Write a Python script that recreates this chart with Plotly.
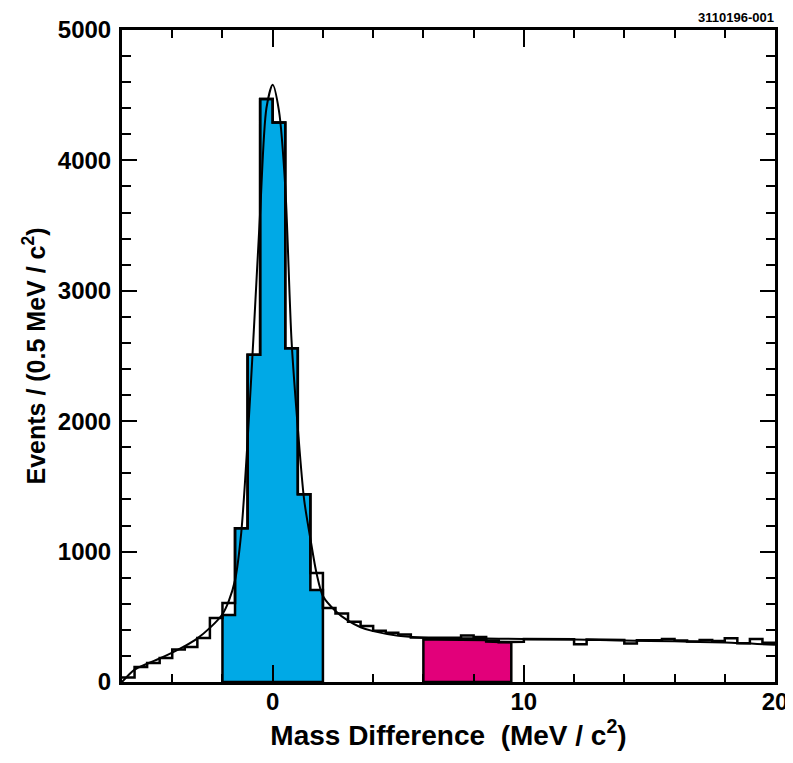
import plotly.graph_objects as go

# ---------------- data ----------------
BIN_WIDTH = 0.5
data_start = -6.0
# events per 0.5 MeV bin, from -6 to 20 MeV
data_counts = [35, 115, 145, 185, 250, 268, 337, 490, 605, 1180,
               2510, 4470, 4290, 2560, 1440, 835, 567, 526, 462, 429,
               393, 378, 365, 342, 340, 340, 340, 357, 345, 318,
               305, 309, 330, 325, 330, 327, 289, 325, 320, 322,
               296, 320, 322, 330, 318, 310, 322, 315, 335, 297,
               330, 301]

signal_start = -2.0
signal_counts = [513, 1180, 2510, 4470, 4290, 2560, 1440, 705]

sideband_start = 6.0
sideband_counts = [325, 325, 325, 325, 322, 310, 305]

fit_x = [-6, -5.5, -5, -4.5, -4, -3.5, -3, -2.5, -2, -1.75, -1.5, -1.25,
         -1, -0.75, -0.5, -0.25, 0, 0.25, 0.5, 0.75, 1, 1.25, 1.5, 1.75,
         2, 2.5, 3, 3.5, 4, 5, 6, 8, 10, 12, 14, 16, 18, 20]
fit_y = [0, 95, 140, 180, 225, 275, 335, 415, 520, 620, 780, 1150,
         1850, 2700, 3600, 4400, 4580, 4380, 3800, 2620, 1950, 1400, 1100, 830,
         660, 545, 470, 420, 390, 355, 340, 335, 330, 325, 318, 312, 302, 285]

x_ticks = [0, 10, 20]
y_ticks = [0, 1000, 2000, 3000, 4000, 5000]

BLUE = "#00A9E6"
MAGENTA = "#E2007A"


def step_path(start, counts, closed):
    xs, ys = [], []
    if closed:
        xs.append(start); ys.append(0)
    for i, c in enumerate(counts):
        a = start + i * BIN_WIDTH
        xs += [a, a + BIN_WIDTH]
        ys += [c, c]
    if closed:
        xs.append(start + len(counts) * BIN_WIDTH); ys.append(0)
        xs.append(start); ys.append(0)
    return xs, ys


fig = go.Figure()

sx, sy = step_path(signal_start, signal_counts, True)
fig.add_trace(go.Scatter(x=sx, y=sy, mode="lines", fill="toself",
                         fillcolor=BLUE, line=dict(color="black", width=2.5),
                         hoverinfo="skip", showlegend=False))

bx, by = step_path(sideband_start, sideband_counts, True)
fig.add_trace(go.Scatter(x=bx, y=by, mode="lines", fill="toself",
                         fillcolor=MAGENTA, line=dict(color="black", width=2.5),
                         hoverinfo="skip", showlegend=False))

dx, dy = step_path(data_start, data_counts, False)
fig.add_trace(go.Scatter(x=dx, y=dy, mode="lines",
                         line=dict(color="black", width=2.5),
                         showlegend=False))

fig.add_trace(go.Scatter(x=fit_x, y=fit_y, mode="lines",
                         line=dict(color="black", width=2, shape="spline", smoothing=0.8),
                         showlegend=False))

font_family = "Liberation Sans, Arial, Helvetica, sans-serif"

fig.update_layout(
    width=785, height=755,
    margin=dict(l=114, r=18, t=22, b=81, autoexpand=False),
    paper_bgcolor="white", plot_bgcolor="white",
    font=dict(family=font_family, color="black"),
    showlegend=False,
    xaxis=dict(
        range=[-6, 20], tickvals=x_ticks, ticktext=[str(v) for v in x_ticks],
        ticks="inside", ticklen=17, tickwidth=2, tickcolor="black",
        minor=dict(dtick=2, tick0=0, ticks="inside", ticklen=8, tickwidth=2, tickcolor="black"),
        showline=True, linewidth=3, linecolor="black", mirror="allticks",
        showgrid=False, zeroline=False, automargin=False,
        ticklabelstandoff=-4, ticklabeloverflow="allow",
        tickfont=dict(size=24, weight="bold", family=font_family),
        title=dict(text="Mass Difference\u00a0\u00a0(MeV / c<sup>2</sup>)",
                   font=dict(size=28, weight="bold", family=font_family), standoff=9),
    ),
    yaxis=dict(
        range=[0, 5000], tickvals=y_ticks, ticktext=[str(v) for v in y_ticks],
        ticks="inside", ticklen=15, tickwidth=2, tickcolor="black",
        minor=dict(dtick=200, tick0=0, ticks="inside", ticklen=9, tickwidth=2, tickcolor="black"),
        showline=True, linewidth=3, linecolor="black", mirror="allticks",
        showgrid=False, zeroline=False, automargin=False,
        ticklabelstandoff=3, ticklabeloverflow="allow",
        tickfont=dict(size=24, weight="bold", family=font_family),
        title=dict(text="Events / (0.5 MeV / c<sup>2</sup>)",
                   font=dict(size=25, weight="bold", family=font_family), standoff=6),
    ),
    annotations=[dict(text="3110196-001", xref="paper", yref="paper",
                      x=1.0, y=1.0, xanchor="right", yanchor="bottom", yshift=4,
                      showarrow=False, borderpad=0,
                      font=dict(size=13, weight="bold", family=font_family))],
)

fig.write_html("out.html")
